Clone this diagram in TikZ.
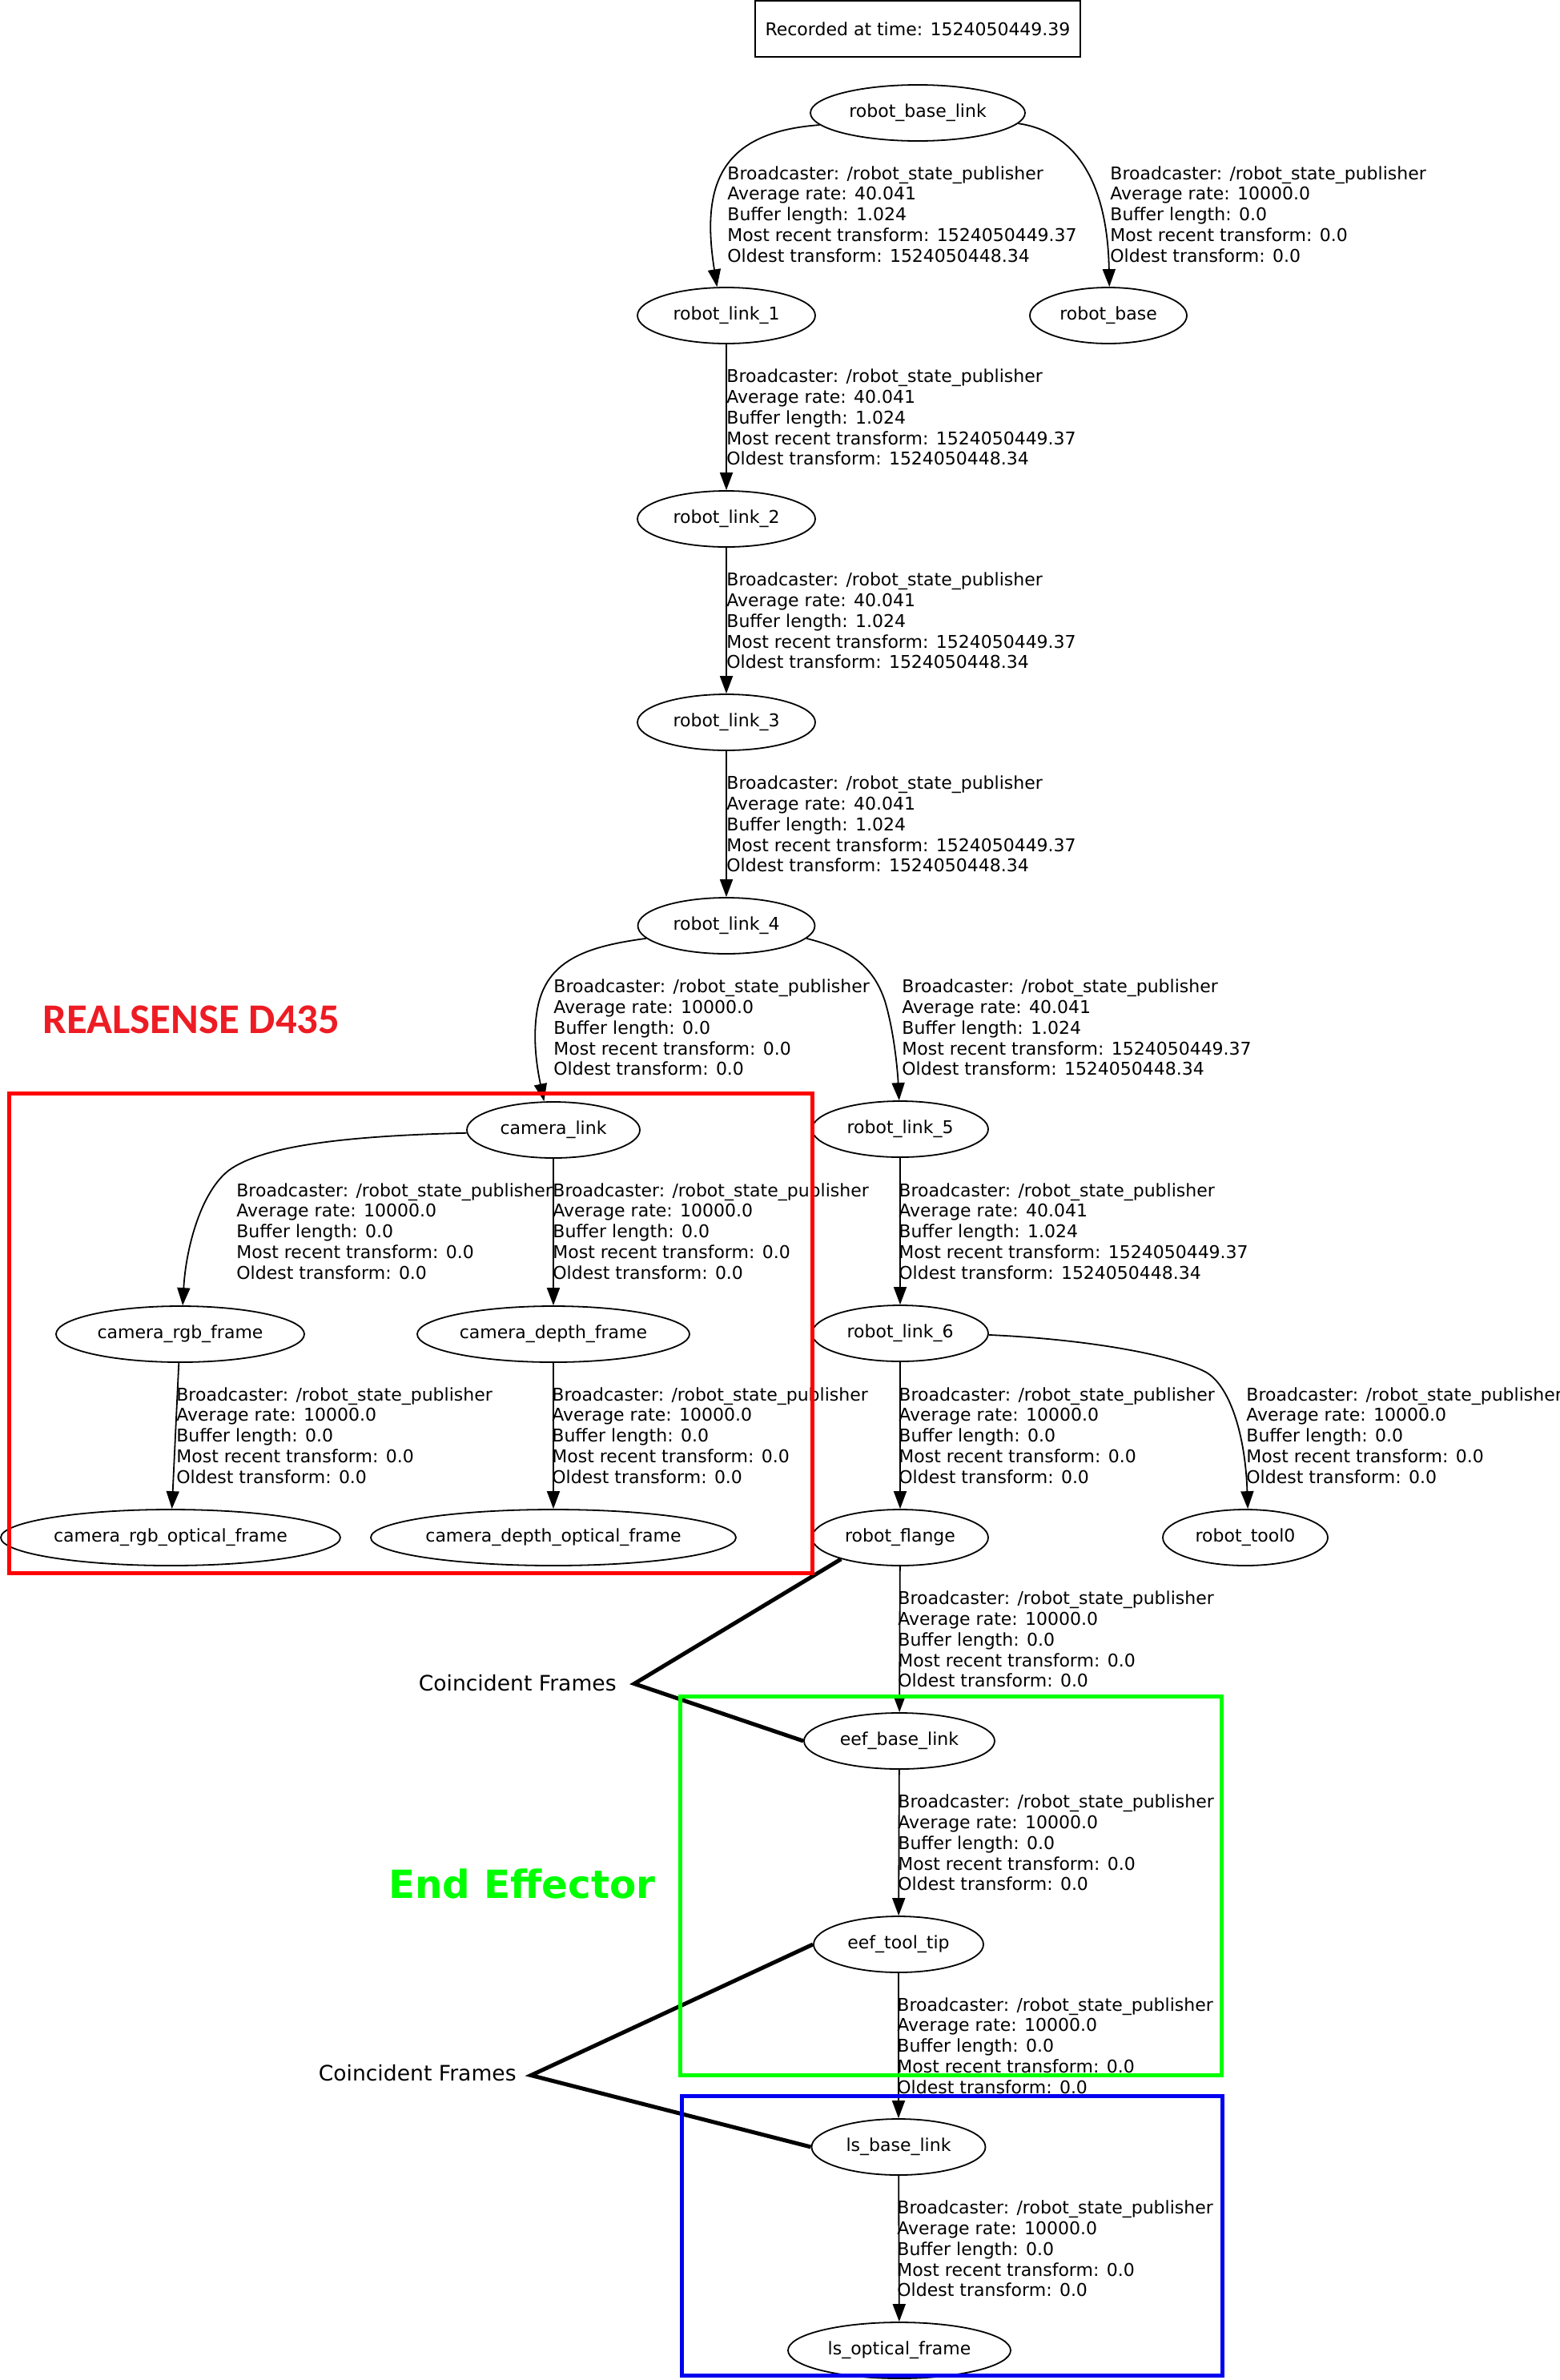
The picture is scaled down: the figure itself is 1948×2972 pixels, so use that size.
\documentclass[tikz,border=0pt]{standalone}
\usepackage{fontspec}
\setmainfont{DejaVu Sans}
\newfontfamily\carlito{Carlito}
\usetikzlibrary{shapes.geometric,arrows.meta}
\definecolor{rsred}{RGB}{237,28,36}
\definecolor{eegreen}{RGB}{0,255,0}
\definecolor{lsblue}{RGB}{0,0,240}
\definecolor{boxred}{RGB}{255,0,0}
\newcommand\rsplive{Broadcaster: /robot\_state\_publisher\\Average rate: 40.041\\Buffer length: 1.024\\Most recent transform: 1524050449.37\\Oldest transform: 1524050448.34}
\newcommand\rspstatic{Broadcaster: /robot\_state\_publisher\\Average rate: 10000.0\\Buffer length: 0.0\\Most recent transform: 0.0\\Oldest transform: 0.0}
\begin{document}
\begin{tikzpicture}[x=0.5pt,y=-0.5pt,
  frame/.style={draw, ellipse, line width=0.9pt, inner sep=0pt, minimum height=35pt, font=\fontsize{11}{12.9}\selectfont},
  info/.style={anchor=west, align=left, inner sep=0pt, font=\fontsize{11}{12.9}\selectfont},
  tf/.style={line width=0.9pt, -{Triangle[length=11pt,width=8pt]}},
  coin/.style={line width=2.5pt, line join=miter},
  cftext/.style={anchor=east, inner sep=0pt, font=\fontsize{13.3}{16}\selectfont},
  grp/.style={line width=2.5pt}]
\useasboundingbox (0,0) rectangle (1948,2972);
\fill[white] (0,0) rectangle (1948,2972);
% title
\node[draw, line width=0.9pt, minimum width=203pt, minimum height=35pt, inner sep=0pt, font=\fontsize{11}{12.9}\selectfont] (title) at (1146,36) {Recorded at time: 1524050449.39};
% frames
\node[frame, minimum width=134pt] (rbl) at (1146,141) {robot\_base\_link};
\node[frame, minimum width=111pt] (rl1) at (907,394) {robot\_link\_1};
\node[frame, minimum width=98pt] (rb) at (1384,394) {robot\_base};
\node[frame, minimum width=111pt] (rl2) at (907,648) {robot\_link\_2};
\node[frame, minimum width=111pt] (rl3) at (907,902) {robot\_link\_3};
\node[frame, minimum width=110.5pt] (rl4) at (907,1156) {robot\_link\_4};
\node[frame, minimum width=108pt] (cl) at (691,1411) {camera\_link};
\node[frame, minimum width=110pt] (rl5) at (1124,1410) {robot\_link\_5};
\node[frame, minimum width=155pt] (crf) at (225,1666) {camera\_rgb\_frame};
\node[frame, minimum width=170pt] (cdf) at (691,1666) {camera\_depth\_frame};
\node[frame, minimum width=110pt] (rl6) at (1124,1665) {robot\_link\_6};
\node[frame, minimum width=212pt] (crof) at (213,1920) {camera\_rgb\_optical\_frame};
\node[frame, minimum width=228pt] (cdof) at (691,1920) {camera\_depth\_optical\_frame};
\node[frame, minimum width=110pt] (rf) at (1124,1920) {robot\_flange};
\node[frame, minimum width=103pt] (rt0) at (1555,1920) {robot\_tool0};
\node[frame, minimum width=119pt] (ebl) at (1123,2174) {eef\_base\_link};
\node[frame, minimum width=106pt] (ett) at (1122,2428) {eef\_tool\_tip};
\node[frame, minimum width=108.5pt] (lbl) at (1122,2681) {ls\_base\_link};
\node[frame, minimum width=139pt] (lof) at (1123,2935) {ls\_optical\_frame};
% transforms
\draw[tf] (rbl.187) .. controls (900,165) and (875,230) .. (rl1.108);
\draw[tf] (rbl.-6) .. controls (1345,165) and (1383,230) .. (rb.88);
\draw[tf] (rl1) -- (rl2);
\draw[tf] (rl2) -- (rl3);
\draw[tf] (rl3) -- (rl4);
\draw[tf] (rl4.189) .. controls (730,1182) and (682,1200) .. (671,1260) .. controls (664,1300) and (672,1340) .. (cl.108);
\draw[tf] (rl4.-9) .. controls (1060,1185) and (1090,1205) .. (1105,1250) .. controls (1117,1290) and (1121,1340) .. (rl5.92);
\draw[tf] (cl.182) .. controls (450,1418) and (330,1428) .. (285,1462) .. controls (250,1490) and (232,1560) .. (crf.85);
\draw[tf] (cl) -- (cdf);
\draw[tf] (rl5) -- (rl6);
\draw[tf] (crf) -- (crof);
\draw[tf] (cdf) -- (cdof);
\draw[tf] (rl6) -- (rf);
\draw[tf] (rl6.-1) .. controls (1350,1672) and (1460,1690) .. (1505,1713) .. controls (1535,1729) and (1555,1790) .. (rt0.85);
\draw[tf] (rf) -- (ebl);
\draw[tf] (ebl) -- (ett);
\draw[tf] (ett) -- (lbl);
\draw[tf] (lbl) -- (lof);
% labels
\node[info] (i1) at (908,267.5) {\rsplive};
\node[info] (i2) at (1386,267.5) {\rspstatic};
\node[info] (i3) at (907,521) {\rsplive};
\node[info] (i4) at (907,775) {\rsplive};
\node[info] (i5) at (907,1029) {\rsplive};
\node[info] (i6) at (691,1283) {\rspstatic};
\node[info] (i7) at (1126,1283) {\rsplive};
\node[info] (i8) at (295,1537.5) {\rspstatic};
\node[info] (i9) at (690,1537.5) {\rspstatic};
\node[info] (i10) at (1122,1537.5) {\rsplive};
\node[info] (i11) at (220,1792.5) {\rspstatic};
\node[info] (i12) at (689,1792.5) {\rspstatic};
\node[info] (i13) at (1122,1792.5) {\rspstatic};
\node[info] (i14) at (1556,1792.5) {\rspstatic};
\node[info] (i15) at (1121,2047) {\rspstatic};
\node[info] (i16) at (1121,2301) {\rspstatic};
\node[info] (i17) at (1120,2554.5) {\rspstatic};
\node[info] (i18) at (1120,2808) {\rspstatic};
% coincident frames
\node[cftext] (cf1) at (770,2102) {Coincident Frames};
\coordinate (cf1v) at (792,2102.5);
\draw[coin] (rf.200) -- (cf1v) -- (ebl.west);
\node[cftext] (cf2) at (645,2589) {Coincident Frames};
\coordinate (cf2v) at (663,2591.5);
\draw[coin] (ett.west) -- (cf2v) -- (lbl.west);
% group boxes and titles
\node[anchor=base west, inner sep=0pt, text=rsred, font=\carlito\bfseries\fontsize{26.4}{30}\selectfont] (rs) at (53,1290) {REALSENSE D435};
\node[anchor=base west, inner sep=0pt, text=eegreen, font=\bfseries\fontsize{24.2}{30}\selectfont] (ee) at (485,2370) {End Effector};
\draw[grp, boxred] (11,1365) rectangle (1014,1964);
\draw[grp, eegreen] (849,2118) rectangle (1525,2591);
\draw[grp, lsblue] (851,2617) rectangle (1526,2966);
\end{tikzpicture}
\end{document}
